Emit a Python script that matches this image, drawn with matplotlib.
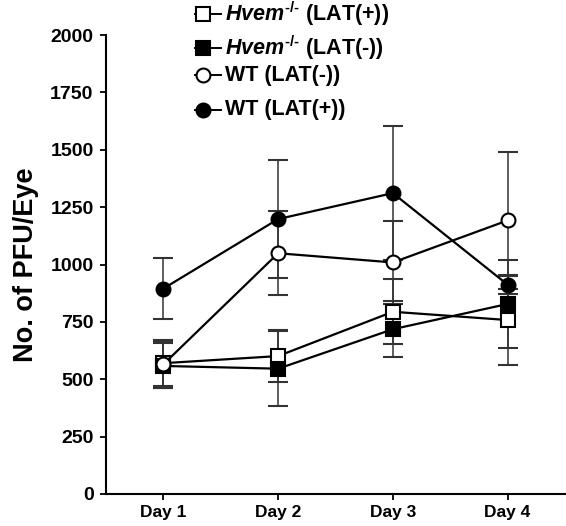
import matplotlib
matplotlib.use("Agg")
import matplotlib.pyplot as plt
from matplotlib.lines import Line2D
import numpy as np

plt.rcParams['font.family'] = ['Liberation Sans', 'DejaVu Sans']
plt.rcParams['font.weight'] = 'bold'
plt.rcParams['mathtext.fontset'] = 'custom'
plt.rcParams['mathtext.it'] = 'Liberation Sans:italic:bold'
plt.rcParams['mathtext.rm'] = 'Liberation Sans:bold'
plt.rcParams['mathtext.bf'] = 'Liberation Sans:bold'

days = ["Day 1", "Day 2", "Day 3", "Day 4"]
yticks = [0, 250, 500, 750, 1000, 1250, 1500, 1750, 2000]

hvem_lat_pos = [570, 601, 794, 758]
hvem_lat_pos_err = [100, 115, 141, 197]
hvem_lat_neg = [558, 546, 718, 828]
hvem_lat_neg_err = [98, 163, 122, 190]
wt_lat_neg = [565, 1049, 1009, 1192]
wt_lat_neg_err = [103, 183, 182, 300]
wt_lat_pos = [895, 1198, 1311, 912]
wt_lat_pos_err = [133, 258, 292, 40]

labels = [r"$\mathit{Hvem}^{\text{-/-}}$ (LAT(+))", r"$\mathit{Hvem}^{\text{-/-}}$ (LAT(-))",
          "WT (LAT(-))", "WT (LAT(+))"]

W, H = 566, 526
fig = plt.figure(figsize=(W/100, H/100), dpi=100)
ax = fig.add_axes([106/W, (H-494)/H, (565-106)/W, (494-35)/H])

x = np.arange(1, len(days)+1)
series = [
    (hvem_lat_pos, hvem_lat_pos_err, 's', 'white'),
    (hvem_lat_neg, hvem_lat_neg_err, 's', 'black'),
    (wt_lat_neg, wt_lat_neg_err, 'o', 'white'),
    (wt_lat_pos, wt_lat_pos_err, 'o', 'black'),
]
for vals, err, m, fc in series:
    ax.errorbar(x, vals, yerr=err, color='black', lw=1.6, marker=m, ms=10,
                mfc=fc, mec='black', mew=1.5, ecolor='#333333', elinewidth=1.1,
                capsize=7, capthick=1.1, zorder=3)

ax.set_xlim(0.5, 4.5)
ax.set_ylim(0, 2000)
ax.set_xticks(x)
ax.set_xticklabels(days, fontsize=12.5, fontweight='bold')
ax.set_yticks(yticks)
ax.set_yticklabels([str(v) for v in yticks], fontsize=14, fontweight='bold')
ax.spines['top'].set_visible(False)
ax.spines['right'].set_visible(False)
for s in ['left', 'bottom']:
    ax.spines[s].set_linewidth(1.5)
ax.tick_params(axis='both', direction='out', length=4, width=1.3)
ax.tick_params(axis='y', pad=5)
ax.tick_params(axis='x', pad=4)
ax.set_ylabel("No. of PFU/Eye", fontsize=19.5, fontweight='bold', labelpad=8)

# manual legend
rows = [14, 48, 75, 110]
for (vals, err, m, fc), lab, ry in zip(series, labels, rows):
    yf = (H - ry) / H
    fig.add_artist(Line2D([195/W, 221/W], [yf, yf], color='black', lw=1.4,
                          transform=fig.transFigure))
    fig.add_artist(Line2D([203/W], [yf], marker=m, ms=10, mfc=fc, mec='black',
                          mew=1.5, transform=fig.transFigure, ls='none'))
    fig.text(225/W, yf, lab, fontsize=15.5, fontweight='bold', va='center', ha='left')

fig.savefig("out.png", dpi=100)
